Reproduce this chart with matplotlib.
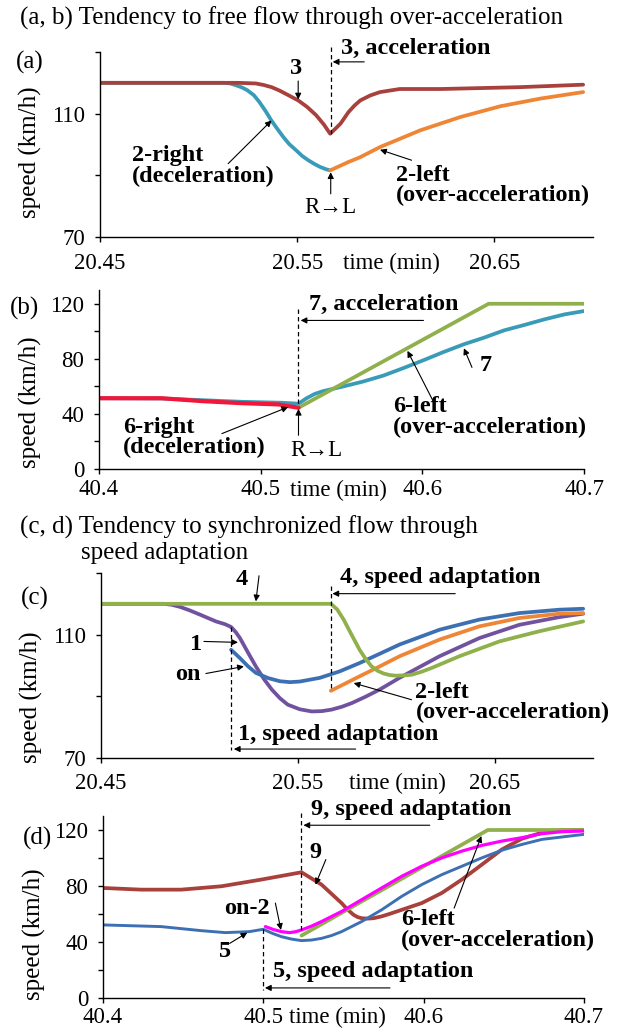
import matplotlib.pyplot as plt

plt.rcParams['font.family'] = ['Liberation Serif', 'DejaVu Serif']

# ---- panel (a): over-acceleration, free flow, 20.45-20.70 min ----
a3_time = [20.45, 20.52, 20.529, 20.533, 20.537, 20.541, 20.5455, 20.5505, 20.555,
           20.5596, 20.5635, 20.5667, 20.5695, 20.572, 20.576, 20.579, 20.582, 20.587,
           20.592, 20.602, 20.623, 20.643, 20.663, 20.695]
a3_speed = [120, 120, 119.8, 119.3, 118.6, 117.5, 116.0, 114.3, 112.2,
            109.5, 106.5, 103.5, 105.2, 106.8, 110.5, 112.6, 114.3, 115.9,
            117.0, 118.0, 118.0, 118.3, 118.6, 119.4]
a2r_time = [20.45, 20.5127, 20.516, 20.519, 20.522, 20.5247, 20.528, 20.5308, 20.534,
            20.5369, 20.540, 20.543, 20.546, 20.5495, 20.5525, 20.5556, 20.5587,
            20.5617, 20.5645, 20.5667]
a2r_speed = [120, 120, 119.8, 119.2, 118.5, 117.6, 116.0, 113.8, 110.8,
             107.8, 105.0, 102.4, 100.1, 98.1, 96.3, 94.9, 93.7,
             92.7, 92.0, 91.6]
a2l_time = [20.5667, 20.5759, 20.582, 20.5921, 20.6023, 20.6124, 20.6327, 20.653,
            20.6734, 20.695]
a2l_speed = [91.6, 94.3, 95.9, 99.2, 101.9, 104.6, 108.9, 112.4, 114.9, 117.0]

# ---- panel (b): over-acceleration, 40.4-40.7 min ----
b6r_time = [40.4, 40.4387, 40.4636, 40.4885, 40.511, 40.5185, 40.5234]
b6r_speed = [51.4, 51.4, 49.3, 47.8, 46.9, 45.4, 44.5]
b7_time = [40.4, 40.4387, 40.4636, 40.4885, 40.5135, 40.5234, 40.5284, 40.5334, 40.5384,
           40.5509, 40.5633, 40.5758, 40.5883, 40.6007, 40.6132, 40.6257, 40.6382,
           40.6506, 40.6631, 40.6756, 40.688, 40.70]
b7_speed = [51.4, 51.2, 50.0, 48.8, 48.1, 47.4, 51.4, 54.5, 56.5,
            59.9, 63.5, 67.8, 73.3, 79.0, 85.0, 90.6, 95.4,
            100.7, 104.6, 108.7, 112.3, 114.7]
b6l_time = [40.5234, 40.641, 40.70]
b6l_speed = [44.5, 120, 120]

# ---- panel (c): speed adaptation, 20.45-20.70 min ----
c4_time = [20.45, 20.5668, 20.570, 20.5733, 20.5773, 20.5814, 20.5845, 20.5875, 20.5905,
           20.5936, 20.5967, 20.5997, 20.6037, 20.6078, 20.613, 20.618, 20.6321,
           20.6524, 20.6727, 20.695]
c4_speed = [120, 120, 118.2, 114.9, 110.0, 105.1, 102.1, 99.7, 98.3,
            97.4, 96.9, 96.7, 96.8, 97.0, 98.0, 99.2, 103.0,
            107.8, 111.1, 114.3]
c1_time = [20.45, 20.482, 20.486, 20.4902, 20.495, 20.5003, 20.5084, 20.513, 20.5161,
           20.5185, 20.5206, 20.5246, 20.5287, 20.5328, 20.5368, 20.5409, 20.5449,
           20.551, 20.5571, 20.5622, 20.5672, 20.5723, 20.5774, 20.5845, 20.5916,
           20.6017, 20.622, 20.6423, 20.6626, 20.6829, 20.695]
c1_speed = [120, 120, 119.7, 119.0, 117.9, 116.5, 114.3, 113.4, 112.5,
            110.8, 108.9, 104.3, 99.7, 95.6, 92.2, 89.4, 87.3,
            85.8, 85.1, 85.2, 85.7, 86.6, 87.8, 89.9, 92.2,
            96.0, 103.0, 108.9, 113.2, 115.7, 116.8]
con_time = [20.5161, 20.5206, 20.5246, 20.5287, 20.535, 20.5409, 20.546, 20.551,
            20.5612, 20.5713, 20.5814, 20.5916, 20.6017, 20.622, 20.6423, 20.6626,
            20.6829, 20.695]
con_speed = [105.1, 102.4, 99.8, 97.6, 95.9, 94.9, 94.6, 94.8,
             96.0, 98.1, 100.8, 103.8, 106.8, 111.6, 114.9, 117.0,
             118.1, 118.4]
c2l_time = [20.5668, 20.5814, 20.5916, 20.6017, 20.622, 20.6423, 20.6626, 20.6829, 20.695]
c2l_speed = [91.8, 96.5, 99.7, 103.0, 108.4, 112.7, 115.4, 116.8, 117.0]

# ---- panel (d): speed adaptation, 40.4-40.7 min ----
d9_time = [40.4, 40.4238, 40.4488, 40.4738, 40.4988, 40.5238, 40.5363, 40.5488, 40.5525,
           40.5563, 40.5588, 40.5613, 40.565, 40.5688, 40.5738, 40.5788, 40.5988,
           40.6113, 40.6238, 40.6363, 40.6488, 40.6613, 40.6738, 40.6863, 40.70]
d9_speed = [78.6, 77.4, 77.4, 79.8, 84.6, 89.8, 81.0, 67.8, 63.2,
            59.4, 57.8, 57.0, 56.7, 57.0, 58.3, 60.1, 67.8,
            75.0, 84.6, 95.3, 106.1, 113.8, 118.1, 120.0, 120.0]
d5_time = [40.4, 40.4363, 40.4613, 40.4763, 40.4913, 40.5, 40.5056, 40.5113, 40.5175,
           40.5238, 40.53, 40.5363, 40.5425, 40.5488, 40.5613, 40.5738, 40.5863,
           40.5988, 40.6113, 40.6238, 40.6363, 40.6488, 40.6613, 40.6738, 40.70]
d5_speed = [52.2, 51.0, 48.1, 46.7, 47.4, 49.1, 46.2, 43.8, 42.1,
            41.0, 41.4, 42.6, 44.6, 47.4, 54.6, 63.0, 72.6,
            81.0, 88.1, 94.1, 100.1, 105.6, 109.7, 113.3, 116.9]
don2_time = [40.5013, 40.5063, 40.5113, 40.5163, 40.52, 40.5238, 40.53, 40.5363, 40.5488,
             40.5613, 40.5738, 40.5863, 40.5988, 40.6113, 40.6238, 40.6363, 40.6488,
             40.6613, 40.6738, 40.6863, 40.70]
don2_speed = [51.0, 48.9, 47.4, 46.7, 47.3, 48.6, 51.3, 54.6, 61.8,
              70.2, 78.6, 86.9, 94.1, 100.1, 104.9, 109.0, 112.1,
              114.5, 117.4, 118.8, 119.3]
d6l_time = [40.5238, 40.64, 40.70]
d6l_speed = [44.6, 120, 120]

W, H = 630, 1032
TICK_FS = 16.5
NOTE_FS = 17.5
TITLE_FS = 18

c_brown = '#a8403b'
c_teal = '#3a9bb8'
c_orange = '#ee8636'
c_green = '#8fb04b'
c_purple = '#71529f'
c_blue = '#3d70b3'
c_red = '#f2173a'
c_magenta = '#ff00ff'


def px_axes(fig, left, top, right, bottom):
    return fig.add_axes([left / W, 1 - bottom / H, (right - left) / W, (bottom - top) / H])


def style_axes(ax, xticks, xlabels, yticks, ylabels, xlim, ylim, xlab_at, ylab_at, xpad):
    ax.set_xlim(*xlim)
    ax.set_ylim(*ylim)
    for s in ('top', 'right'):
        ax.spines[s].set_visible(False)
    for s in ('left', 'bottom'):
        ax.spines[s].set_linewidth(1.0)
    ax.set_xticks(xticks)
    ax.set_xticklabels(xlabels)
    ax.set_yticks(yticks)
    ax.set_yticklabels(ylabels)
    ax.tick_params(direction='out', length=3.5, width=1, labelsize=TICK_FS)
    ax.tick_params(axis='x', pad=xpad)
    ax.tick_params(axis='y', pad=7)
    ax.text(-0.142, ylab_at, 'speed (km/h)', transform=ax.transAxes, rotation=90,
            ha='center', va='center', fontsize=TITLE_FS)
    ax.annotate('time (min)', xy=(xlab_at, 0), xycoords=('data', 'axes fraction'),
                xytext=(0, -(3.5 + xpad)), textcoords='offset points',
                ha='center', va='top', fontsize=TICK_FS)


def arrow(ax, start, end):
    ax.annotate('', xy=end, xytext=start, annotation_clip=False,
                arrowprops=dict(arrowstyle='-|>', color='black', lw=0.8,
                                mutation_scale=9, shrinkA=0, shrinkB=0))


def label(ax, text, xy, ha='left'):
    ax.text(xy[0], xy[1], text, fontsize=NOTE_FS, fontweight='bold', clip_on=False,
            ha=ha, va='center', linespacing=0.95)


def dashed(ax, x, y0, y1):
    ax.plot([x, x], [y0, y1], color='black', lw=0.9, ls=(0, (3.5, 2.5)), clip_on=False)


fig = plt.figure(figsize=(W / 100, H / 100), dpi=100)

fig.text(20 / W, 1 - 18 / H, '(a, b) Tendency to free flow through over-acceleration',
         fontsize=TITLE_FS, ha='left', va='center')
fig.text(20 / W, 1 - 527 / H, '(c, d) Tendency to synchronized flow through',
         fontsize=TITLE_FS, ha='left', va='center')
fig.text(81 / W, 1 - 553 / H, 'speed adaptation', fontsize=TITLE_FS, ha='left', va='center')

# (a)
ax = px_axes(fig, 100, 52, 593, 237)
style_axes(ax, [20.45, 20.55, 20.65], ['20.45', '20.55', '20.65'],
           [70, 90, 110, 130], ['70', '', '110', ''], (20.45, 20.70), (70, 130),
           20.598, 0.46, 8)
ax.plot(a2r_time, a2r_speed, color=c_teal, lw=2.7, solid_capstyle='round')
ax.plot(a2l_time, a2l_speed, color=c_orange, lw=2.7, solid_capstyle='round')
ax.plot(a3_time, a3_speed, color=c_brown, lw=2.7, solid_capstyle='round')
dashed(ax, 20.567, 131.5, 103.5)
label(ax, '3, acceleration', (20.572, 131.1))
arrow(ax, (20.584, 126.8), (20.568, 126.8))
label(ax, '3', (20.5495, 124.8), ha='center')
arrow(ax, (20.5505, 120.6), (20.5505, 114.6))
label(ax, '2-right\n(deceleration)', (20.466, 93))
arrow(ax, (20.515, 93.8), (20.537, 107.8))
label(ax, '2-left\n(over-acceleration)', (20.600, 86.8))
arrow(ax, (20.608, 94.9), (20.592, 98.3))
arrow(ax, (20.567, 84), (20.567, 91))
ax.text(20.567, 79.7, 'R\u2192L', fontsize=TICK_FS, ha='center', va='center')
fig.text(30 / W, 1 - 62 / H, '(a)', fontsize=TITLE_FS, ha='center', va='center')

# (b)
ax = px_axes(fig, 99, 290, 584, 469)
style_axes(ax, [40.4, 40.5, 40.6, 40.7], ['40.4', '40.5', '40.6', '40.7'],
           [0, 20, 40, 60, 80, 100, 120], ['0', '', '40', '', '80', '', '120'],
           (40.4, 40.7), (0, 130), 40.548, 0.374, 4)
ax.plot(b7_time, b7_speed, color=c_teal, lw=2.7, solid_capstyle='round')
ax.plot(b6l_time, b6l_speed, color=c_green, lw=2.7, solid_capstyle='round')
ax.plot(b6r_time, b6r_speed, color=c_red, lw=3.0, solid_capstyle='round')
dashed(ax, 40.5234, 116, 47)
label(ax, '7, acceleration', (40.5297, 119.5))
arrow(ax, (40.6007, 107.9), (40.5247, 107.9))
label(ax, '7', (40.639, 75.5), ha='center')
arrow(ax, (40.6307, 73.8), (40.6257, 87.7))
label(ax, '6-left\n(over-acceleration)', (40.582, 37.7))
arrow(ax, (40.607, 48.6), (40.5908, 85.8))
label(ax, '6-right\n(deceleration)', (40.415, 22.8))
arrow(ax, (40.476, 25.7), (40.517, 45))
arrow(ax, (40.5234, 24.5), (40.5234, 43.7))
ax.text(40.5347, 13.7, 'R\u2192L', fontsize=TICK_FS, ha='center', va='center')
fig.text(24 / W, 1 - 308 / H, '(b)', fontsize=TITLE_FS, ha='center', va='center')

# (c)
ax = px_axes(fig, 101, 573, 593, 758)
style_axes(ax, [20.45, 20.55, 20.65], ['20.45', '20.55', '20.65'],
           [70, 90, 110, 130], ['70', '', '110', ''], (20.45, 20.70), (70, 130),
           20.6007, 0.33, 7)
ax.plot(c1_time, c1_speed, color=c_purple, lw=2.7, solid_capstyle='round')
ax.plot(con_time, con_speed, color=c_blue, lw=2.7, solid_capstyle='round')
ax.plot(c2l_time, c2l_speed, color=c_orange, lw=2.7, solid_capstyle='round')
ax.plot(c4_time, c4_speed, color=c_green, lw=2.7, solid_capstyle='round')
dashed(ax, 20.5668, 125.9, 91.8)
dashed(ax, 20.5161, 112.5, 72.7)
label(ax, '4, speed adaptation', (20.5713, 128.4))
arrow(ax, (20.630, 123.3), (20.5676, 123.3))
label(ax, '1, speed adaptation', (20.5196, 77.6))
arrow(ax, (20.5794, 72.9), (20.5175, 72.9))
label(ax, '4', (20.5216, 127.8), ha='center')
arrow(ax, (20.5303, 129.1), (20.5287, 120.8))
label(ax, '1', (20.4983, 106.8), ha='center')
arrow(ax, (20.5023, 107.8), (20.5196, 107.5))
label(ax, 'on', (20.4942, 97), ha='center')
arrow(ax, (20.5033, 97.4), (20.5226, 99.7))
label(ax, '2-left\n(over-acceleration)', (20.6098, 88.1))
arrow(ax, (20.6078, 88.9), (20.5784, 94.3))
fig.text(35 / W, 1 - 598 / H, '(c)', fontsize=TITLE_FS, ha='center', va='center')

# (d)
ax = px_axes(fig, 103, 816, 584, 998)
style_axes(ax, [40.4, 40.5, 40.6, 40.7], ['40.4', '40.5', '40.6', '40.7'],
           [0, 20, 40, 60, 80, 100, 120], ['0', '', '40', '', '80', '', '120'],
           (40.4, 40.7), (0, 130), 40.546, 0.35, 3)
ax.plot(d9_time, d9_speed, color=c_brown, lw=2.7, solid_capstyle='round')
ax.plot(d6l_time, d6l_speed, color=c_green, lw=2.7, solid_capstyle='round')
ax.plot(d5_time, d5_speed, color=c_blue, lw=2.1, solid_capstyle='round')
ax.plot(don2_time, don2_speed, color=c_magenta, lw=2.3, solid_capstyle='round')
dashed(ax, 40.5238, 132, 46.2)
dashed(ax, 40.5, 49, 6)
label(ax, '9, speed adaptation', (40.53, 134.8))
arrow(ax, (40.6038, 123.4), (40.525, 123.4))
label(ax, '5, speed adaptation', (40.506, 18.7))
arrow(ax, (40.579, 7.2), (40.501, 7.2))
label(ax, '9', (40.5325, 103.7), ha='center')
arrow(ax, (40.539, 98.9), (40.5325, 81))
label(ax, 'on-2', (40.49, 64.2), ha='center')
arrow(ax, (40.5075, 67.8), (40.511, 48.6))
label(ax, '5', (40.476, 33), ha='center')
arrow(ax, (40.479, 39), (40.49, 46.7))
label(ax, '6-left\n(over-acceleration)', (40.586, 48.6))
arrow(ax, (40.619, 64.2), (40.636, 115.7))
fig.text(38 / W, 1 - 838 / H, '(d)', fontsize=TITLE_FS, ha='center', va='center')

fig.savefig('out.png', dpi=100)
